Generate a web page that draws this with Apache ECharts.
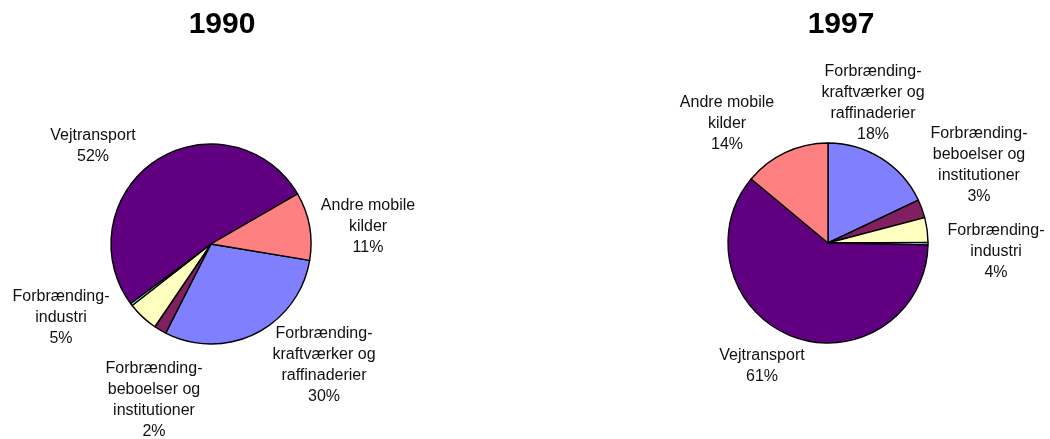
<!DOCTYPE html>
<html>
<head>
<meta charset="utf-8">
<title>Emissioner fordelt på kilder 1990 og 1997</title>
<script src="https://cdn.jsdelivr.net/npm/echarts@6/dist/echarts.min.js"></script>
<style>
  html, body { margin: 0; padding: 0; background: #ffffff; }
  #chart { width: 1050px; height: 439px; }
</style>
</head>
<body>
<div id="chart"></div>
<script>
// Source categories (same order in both years, clockwise)
const categories = [
  'Forbrænding-\nkraftværker og\nraffinaderier',
  'Forbrænding-\nbeboelser og\ninstitutioner',
  'Forbrænding-\nindustri',
  'Andet',
  'Vejtransport',
  'Andre mobile\nkilder'
];

// Shares in percent
const values1990 = [30, 2, 5, 0.4, 52, 11];
const values1997 = [18, 3, 4, 0.4, 61, 14];

const years = ['1990', '1997'];

// Slice colours
const sliceColors = ['#8080FF', '#802060', '#FFFFC0', '#A0E0E0', '#600080', '#FF8080'];

// Label box centres relative to each pie centre (px)
const labelOffsets1990 = [[113, 121], [-57, 156], [-150, 74], null, [-118, -98], [157, -17]];
const labelOffsets1997 = [[45, -140], [151, -78], [168, 9], null, [-66, 123], [-101, -119]];

const pieCenters = [[211, 244], [828, 243]];
const pieRadius = 100;

function buildSeries(values, offsets, center, startAngle) {
  return {
    type: 'pie',
    center: center,
    radius: pieRadius,
    startAngle: startAngle,
    clockwise: true,
    avoidLabelOverlap: false,
    silent: true,
    animation: false,
    itemStyle: { borderColor: '#000000', borderWidth: 1.4 },
    label: {
      show: true,
      position: 'outside',
      formatter: '{b}\n{c}%',
      fontFamily: '"Liberation Sans", Arial, sans-serif',
      fontSize: 16,
      lineHeight: 21,
      color: '#111111',
      align: 'center'
    },
    labelLine: { show: false },
    labelLayout: function (p) {
      const off = offsets[p.dataIndex];
      if (!off) return {};
      return {
        x: center[0] + off[0],
        y: center[1] + off[1],
        align: 'center',
        verticalAlign: 'middle'
      };
    },
    data: categories.map(function (name, i) {
      const item = { name: name, value: values[i], itemStyle: { color: sliceColors[i] } };
      if (!offsets[i]) item.label = { show: false };
      return item;
    })
  };
}

const chart = echarts.init(document.getElementById('chart'), null, { renderer: 'canvas' });

chart.setOption({
  backgroundColor: '#ffffff',
  animation: false,
  title: [
    {
      text: years[0],
      left: 217, top: 5, textAlign: 'center',
      textStyle: { fontFamily: '"Liberation Sans", Arial, sans-serif', fontSize: 30, fontWeight: 'bold', color: '#000000' }
    },
    {
      text: years[1],
      left: 836, top: 5, textAlign: 'center',
      textStyle: { fontFamily: '"Liberation Sans", Arial, sans-serif', fontSize: 30, fontWeight: 'bold', color: '#000000' }
    }
  ],
  series: [
    buildSeries(values1990, labelOffsets1990, pieCenters[0], -9.4),
    buildSeries(values1997, labelOffsets1997, pieCenters[1], 90)
  ]
});
</script>
</body>
</html>
